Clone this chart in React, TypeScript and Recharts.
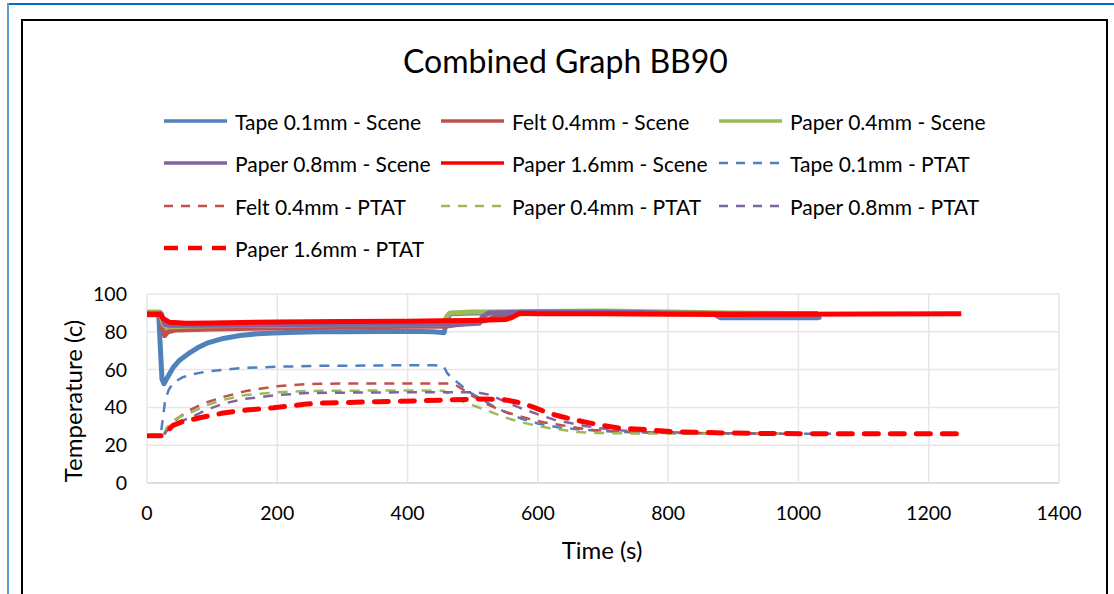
import * as React from "react"
import { LineChart, Line, XAxis, YAxis, CartesianGrid } from "recharts"

// [time (s), temperature (c)]
const tapeScene: [number, number][] = [
  [0, 89.5], [10, 89.5], [18, 89], [20, 75], [23, 55], [26, 52.5], [30, 55], [40, 61],
  [50, 65], [66, 69], [80, 72], [92, 74], [117, 76.5], [143, 78], [170, 79], [194, 79.3],
  [230, 79.8], [261, 80], [300, 80], [350, 80.2], [400, 80.3], [440, 80], [456, 79.5],
  [460, 86], [465, 89.5], [500, 90], [600, 90], [700, 90], [800, 89.8], [870, 89.5],
  [880, 87.5], [950, 87.5], [1000, 87.5], [1030, 87.5], [1035, 88],
]
const feltScene: [number, number][] = [
  [0, 89], [20, 89], [24, 82], [27, 78], [32, 80], [45, 81], [100, 81.5], [200, 82],
  [300, 82.5], [400, 83], [460, 83], [480, 84], [500, 85], [520, 86], [540, 88.5],
  [560, 89.5], [700, 90], [900, 89.5], [1030, 89],
]
const paper04Scene: [number, number][] = [
  [0, 90.5], [20, 90.5], [25, 84], [30, 82.5], [60, 83], [100, 83.2], [200, 83.5],
  [300, 83.8], [400, 84], [455, 84], [460, 88], [465, 90], [500, 90.5], [600, 90.8],
  [700, 91], [800, 90.5], [900, 90], [1030, 89.5],
]
const paper08Scene: [number, number][] = [
  [0, 89.5], [22, 89.5], [27, 84], [35, 83.5], [100, 83.5], [200, 83.7], [300, 84],
  [400, 84], [480, 84], [510, 84.5], [515, 88], [525, 90], [600, 90.5], [700, 90.5],
  [800, 90], [900, 89.5], [1030, 89.5],
]
const paper16Scene: [number, number][] = [
  [0, 89.3], [20, 89.3], [25, 87], [35, 85], [60, 84.5], [100, 84.7], [200, 85.2],
  [300, 85.4], [400, 85.6], [450, 85.8], [500, 86], [550, 86.5], [560, 87.5], [572, 89.8],
  [600, 89.5], [700, 89.5], [800, 89.3], [900, 89.2], [1000, 89.3], [1100, 89.4], [1250, 89.5],
]

const tapePtat: [number, number][] = [
  [0, 25], [18, 25], [22, 28], [25, 36], [28, 44], [33, 49], [40, 53], [55, 56], [70, 57.5],
  [92, 59], [120, 60], [143, 60.8], [200, 61.5], [261, 62], [300, 62], [384, 62.3],
  [440, 62.3], [455, 62], [461, 58], [470, 55], [481, 52], [495, 48], [510, 45], [530, 41],
  [550, 37.5], [575, 34], [600, 31.5], [630, 29.5], [660, 28.5], [700, 27.5], [750, 26.8],
  [800, 26.5], [900, 26.2], [1000, 26], [1050, 26],
]
const feltPtat: [number, number][] = [
  [0, 25], [25, 25], [30, 28], [40, 32], [50, 35], [66, 38.6], [90, 42.5], [117, 45.5],
  [150, 48.5], [194, 51], [245, 52.4], [300, 52.6], [400, 52.7], [461, 52.6], [473, 52],
  [485, 49.5], [496, 46.8], [520, 42], [542, 38.6], [565, 36], [588, 33.8], [610, 32],
  [634, 30.7], [660, 29.2], [685, 28], [720, 27.3], [800, 26.6], [900, 26.2], [1000, 26],
]
const paper04Ptat: [number, number][] = [
  [0, 25], [25, 25], [30, 29], [40, 33], [50, 35], [66, 37], [90, 41], [117, 44],
  [150, 46.5], [200, 48], [245, 48.7], [300, 48.8], [400, 49], [455, 48.8], [462, 47.5],
  [470, 45.5], [485, 43], [501, 41], [525, 38], [547, 35], [570, 32.5], [593, 30.7],
  [615, 29.2], [639, 28], [660, 27], [685, 26.5], [750, 26.2], [850, 26], [1000, 26],
]
const paper08Ptat: [number, number][] = [
  [0, 25], [25, 25], [30, 27.5], [40, 30.5], [50, 32.5], [66, 34.4], [90, 38.5], [117, 42],
  [150, 44.5], [200, 46.5], [245, 47.6], [300, 47.8], [400, 48], [461, 48], [506, 48],
  [527, 46.6], [550, 43], [573, 39.7], [603, 36], [625, 33.5], [650, 31.7], [672, 30.2],
  [696, 29], [730, 27.8], [780, 27], [850, 26.5], [950, 26.2], [1000, 26],
]
const paper16Ptat: [number, number][] = [
  [0, 25], [25, 25], [30, 27], [40, 30.5], [55, 32.5], [81, 34.5], [117, 37], [153, 38.6],
  [194, 39.8], [245, 41.8], [271, 42.3], [353, 43], [430, 43.6], [470, 44], [506, 44.4],
  [545, 44.3], [565, 43], [580, 41.8], [598, 39.5], [616, 37], [634, 35.3], [652, 33.8],
  [670, 32.4], [688, 31.2], [707, 30], [726, 29], [768, 28.2], [803, 27.2], [845, 26.8],
  [885, 26.5], [950, 26.2], [1050, 26], [1150, 26], [1250, 26],
]

const xTicks = [0, 200, 400, 600, 800, 1000, 1200, 1400]
const yTicks = [0, 20, 40, 60, 80, 100]

const BLUE = "#4F81BD"
const BROWN = "#C0504D"
const GREEN = "#9BBB59"
const PURPLE = "#8064A2"
const RED = "#FF0000"
const FONT = "Lato, 'Open Sans', sans-serif"

type Kind = "scene" | "ptat" | "ptatBold"

const series: { name: string; data: [number, number][]; color: string; kind: Kind }[] = [
  { name: "Tape 0.1mm - Scene", data: tapeScene, color: BLUE, kind: "scene" },
  { name: "Felt 0.4mm - Scene", data: feltScene, color: BROWN, kind: "scene" },
  { name: "Paper 0.4mm - Scene", data: paper04Scene, color: GREEN, kind: "scene" },
  { name: "Paper 0.8mm - Scene", data: paper08Scene, color: PURPLE, kind: "scene" },
  { name: "Paper 1.6mm - Scene", data: paper16Scene, color: RED, kind: "scene" },
  { name: "Tape 0.1mm - PTAT", data: tapePtat, color: BLUE, kind: "ptat" },
  { name: "Felt 0.4mm - PTAT", data: feltPtat, color: BROWN, kind: "ptat" },
  { name: "Paper 0.4mm - PTAT", data: paper04Ptat, color: GREEN, kind: "ptat" },
  { name: "Paper 0.8mm - PTAT", data: paper08Ptat, color: PURPLE, kind: "ptat" },
  { name: "Paper 1.6mm - PTAT", data: paper16Ptat, color: RED, kind: "ptatBold" },
]

function strokeFor(kind: Kind, inLegend: boolean) {
  if (kind === "scene") return { strokeWidth: inLegend ? 3.5 : 5, strokeDasharray: undefined }
  if (kind === "ptat") return { strokeWidth: 2.5, strokeDasharray: inLegend ? "9 8" : "10 8" }
  return { strokeWidth: inLegend ? 4.5 : 5, strokeDasharray: inLegend ? "14 10" : "14 12" }
}

const legendCols = [164, 441, 719]
const legendRows = [121, 163, 206, 248]

function LegendBlock() {
  return (
    <>
      {series.map((s, i) => {
        const x = legendCols[i % 3]
        const y = legendRows[Math.floor(i / 3)]
        const st = strokeFor(s.kind, true)
        return (
          <div key={s.name} style={{ position: "absolute", left: x, top: y - 14, height: 28, display: "flex", alignItems: "center" }}>
            <svg width={63} height={10} style={{ marginRight: 8 }}>
              <line
                x1={0}
                y1={5}
                x2={63}
                y2={5}
                stroke={s.color}
                strokeWidth={st.strokeWidth}
                strokeDasharray={st.strokeDasharray}
              />
            </svg>
            <span style={{ fontFamily: FONT, fontSize: 21, color: "#000", whiteSpace: "nowrap" }}>{s.name}</span>
          </div>
        )
      })}
    </>
  )
}

export default function App() {
  return (
    <div style={{ position: "absolute", left: 0, top: 0, width: 1114, height: 594, overflow: "hidden", background: "#fff" }}>
      {/* outer frame */}
      <div style={{ position: "absolute", left: 7, top: 3, right: 0, height: 2, background: "#0070C0" }} />
      <div style={{ position: "absolute", left: 7, top: 3, width: 2, bottom: 0, background: "#5B9BD5" }} />
      <div style={{ position: "absolute", left: 21, top: 19, width: 1087, height: 600, border: "2.5px solid #000", boxSizing: "border-box" }} />

      <div style={{ position: "absolute", left: 0, width: 1131, top: 41, textAlign: "center", fontFamily: FONT, fontSize: 32, color: "#000" }}>
        Combined Graph BB90
      </div>

      <LegendBlock />

      <div style={{ position: "absolute", left: 0, top: 0 }}>
        <LineChart width={1114} height={594} margin={{ top: 294, right: 55, bottom: 0, left: 0 }}>
          <CartesianGrid stroke="#E6E6E6" strokeWidth={1.5} />
          <XAxis
            type="number"
            dataKey="t"
            domain={[0, 1400]}
            ticks={xTicks}
            allowDataOverflow
            tickLine={false}
            tickSize={0}
            tickMargin={23}
            axisLine={{ stroke: "#D9D9D9", strokeWidth: 1.5 }}
            tick={{ fill: "#000", fontSize: 19.5, fontFamily: FONT }}
            height={111}
          />
          <YAxis
            type="number"
            domain={[0, 100]}
            ticks={yTicks}
            width={147}
            tickLine={false}
            tickSize={0}
            tickMargin={20}
            axisLine={false}
            tick={{ fill: "#000", fontSize: 19.5, fontFamily: FONT }}
          />
          {series.map((s) => {
            const st = strokeFor(s.kind, false)
            return (
              <Line
                key={s.name}
                data={s.data.map(([t, v]) => ({ t, v }))}
                dataKey="v"
                name={s.name}
                type="linear"
                stroke={s.color}
                strokeWidth={st.strokeWidth}
                strokeDasharray={st.strokeDasharray}
                strokeLinejoin="round"
                strokeLinecap={s.kind === "ptatBold" ? "round" : "butt"}
                dot={false}
                activeDot={false}
                isAnimationActive={false}
              />
            )
          })}
        </LineChart>
      </div>

      <div style={{ position: "absolute", left: 502, top: 535, width: 200, textAlign: "center", fontFamily: FONT, fontSize: 24, color: "#000" }}>
        Time (s)
      </div>
      <div
        style={{
          position: "absolute",
          left: 72,
          top: 401,
          transform: "translate(-50%, -50%) rotate(-90deg)",
          fontFamily: FONT,
          fontSize: 24,
          color: "#000",
          whiteSpace: "nowrap",
        }}
      >
        Temperature (c)
      </div>
    </div>
  )
}
